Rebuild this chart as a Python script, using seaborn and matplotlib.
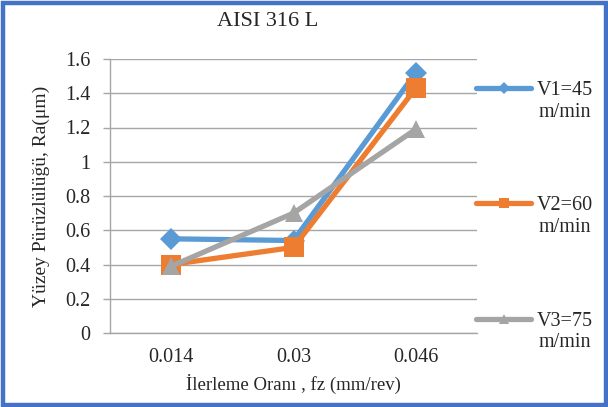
import matplotlib
matplotlib.use("Agg")
import matplotlib.pyplot as plt
import seaborn as sns
import pandas as pd
from matplotlib.patches import Rectangle
from matplotlib.lines import Line2D

feed_rates = ["0.014", "0.03", "0.046"]
v1_values = [0.55, 0.54, 1.52]
v2_values = [0.40, 0.50, 1.43]
v3_values = [0.39, 0.70, 1.19]
series_labels = ["V1=45\nm/min", "V2=60\nm/min", "V3=75\nm/min"]
y_ticks = [0, 0.2, 0.4, 0.6, 0.8, 1, 1.2, 1.4, 1.6]
y_tick_labels = ["0", "0.2", "0.4", "0.6", "0.8", "1", "1.2", "1.4", "1.6"]

sns.set_theme(style="white")
plt.rcParams["font.family"] = ["Liberation Serif", "DejaVu Serif"]

colors = ["#5B9BD5", "#ED7D31", "#A5A5A5"]
markers = ["D", "s", "^"]
msizes = [11, 14, 13]

df = pd.DataFrame({
    "fz": feed_rates * 3,
    "Ra": v1_values + v2_values + v3_values,
    "seri": [series_labels[0]] * 3 + [series_labels[1]] * 3 + [series_labels[2]] * 3,
})

fig = plt.figure(figsize=(6.08, 4.07), dpi=100)
ax = fig.add_axes([110 / 608, 1 - 333 / 407, 367 / 608, 274 / 407])

for i, lab in enumerate(series_labels):
    sub = df[df["seri"] == lab]
    sns.lineplot(data=sub, x="fz", y="Ra", ax=ax, color=colors[i], linewidth=3.8,
                 marker=markers[i], markersize=msizes[i], markeredgewidth=0,
                 sort=False, legend=False, zorder=3 + i)

ax.set_xlim(-0.5, 2.5)
ax.set_ylim(0, 1.6)
ax.set_yticks(y_ticks)
ax.set_yticklabels(y_tick_labels, fontsize=14.5)
ax.tick_params(axis="x", labelsize=14.5, length=0, pad=11)
ax.tick_params(axis="y", length=5, width=1, color="#A6A6A6", direction="out", pad=9, left=True)
ax.yaxis.grid(True, color="#A6A6A6", linewidth=1)
ax.xaxis.grid(False)
for s in ["top", "right"]:
    ax.spines[s].set_visible(False)
for s in ["left", "bottom"]:
    ax.spines[s].set_color("#A6A6A6")
    ax.spines[s].set_linewidth(1)
ax.set_xlabel("İlerleme Oranı , fz (mm/rev)", fontsize=13.5, labelpad=5)
ax.set_ylabel("Yüzey Pürüzlülüğü, Ra(μm)", fontsize=14, labelpad=11)

fig.text(268 / 608, 1 - 22 / 407, "AISI 316 L", ha="center", va="center", fontsize=16)

handles = [Line2D([], [], color=colors[i], linewidth=3.8, marker=markers[i],
                  markersize=msizes[i] * 0.55, markeredgewidth=0) for i in range(3)]
leg = fig.legend(handles, series_labels, loc="upper left",
                 bbox_to_anchor=(476 / 608, 1 - 81 / 407),
                 frameon=False, fontsize=14.5, handlelength=2.75, handletextpad=0.25,
                 labelspacing=3.7, borderpad=0, borderaxespad=0)
# put each legend line next to the first line of its two-line label
for column in leg._legend_handle_box.get_children():
    for item in column.get_children():
        item.align = "top"
for t in leg.get_texts():
    t.set_multialignment("center")

fig.patches.append(Rectangle((2.5 / 608, 2.5 / 407), 603 / 608, 402 / 407,
                             transform=fig.transFigure, fill=False,
                             edgecolor="#4472C4", linewidth=3.2))

fig.savefig("out.png", dpi=100)
